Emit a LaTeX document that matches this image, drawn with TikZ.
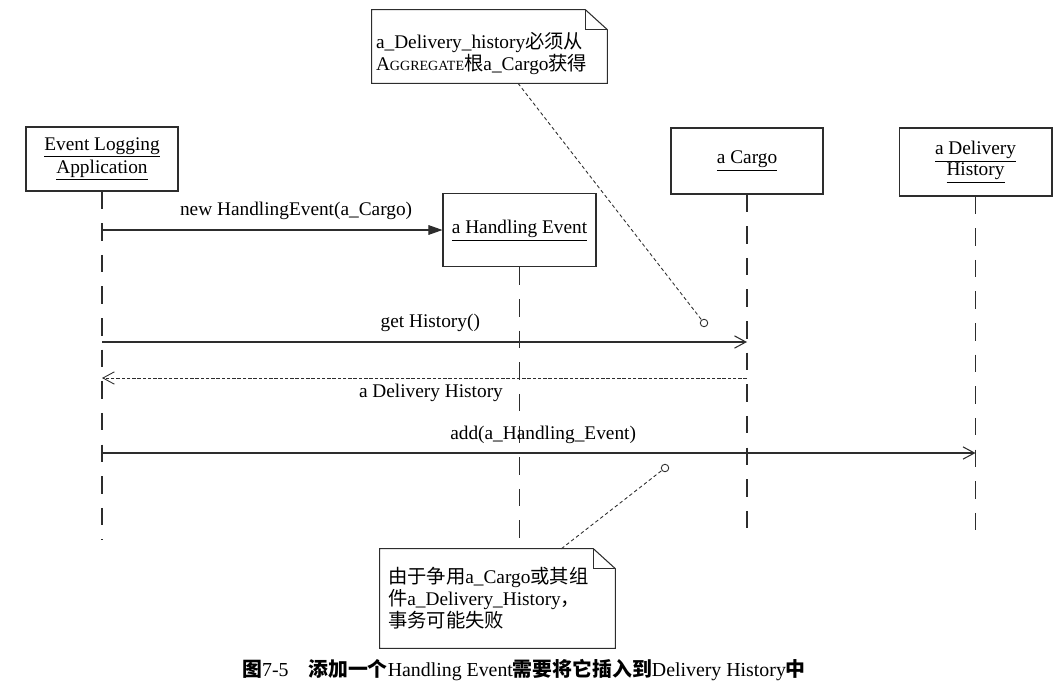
\documentclass[tikz,border=0pt]{standalone}
\usepackage{fontspec}
\setmainfont{Liberation Serif}
\newfontfamily\cjk{Noto Sans CJK SC}
\usepackage{tikz}
\usetikzlibrary{arrows.meta, positioning, calc}
\usepackage{xcolor}
\definecolor{ink}{RGB}{45,45,45}

\tikzset{
  obj/.style={draw=ink, line width=0.6pt, align=center, inner sep=2pt},
  lifeline/.style={draw=ink, line width=0.6pt, dash pattern=on 10pt off 8pt},
  msg/.style={draw=ink, line width=0.6pt},
  retmsg/.style={draw=ink, line width=0.5pt, dash pattern=on 2pt off 1pt},
  opentip/.style={-{Straight Barb[length=6.5pt, width=7pt]}},
  notebox/.style={align=left, minimum width=4.7cm, font=\fontsize{11}{12.5}\selectfont},
  noteline/.style={draw=ink, line width=0.6pt},
  notelink/.style={draw=ink, line width=0.5pt, dash pattern=on 2pt off 1.5pt},
  anchordot/.style={circle, draw=ink, fill=white, line width=0.5pt, inner sep=0pt, minimum size=0.15cm}
}

\begin{document}
\begin{tikzpicture}[x=0.02cm, y=-0.02cm, font=\fontsize{11}{12}\selectfont]
  \useasboundingbox (0,0) rectangle (1054,696);

  \node[obj, minimum width=3.04cm, minimum height=1.28cm] (ela) at (102,159) {\underline{Event Logging}\\\underline{Application}};
  \node[obj, minimum width=3.06cm, inner ysep=0pt, text height=23pt, text depth=19pt] (he) at (519.5,230) {\underline{a Handling Event}};
  \node[obj, minimum width=3.04cm, minimum height=1.32cm] (cargo) at (747,161) {\underline{a Cargo}};
  \node[obj, minimum width=3.06cm, minimum height=1.36cm] (dh) at (975.5,162) {\underline{a Delivery}\\\underline{History}};

  \coordinate (ela-end) at (102,540);
  \coordinate (he-end) at (519.5,540);
  \coordinate (cargo-end) at (747,540);
  \coordinate (dh-end) at (975.5,540);
  \draw[lifeline] (ela) -- (ela-end);
  \draw[lifeline] (he) -- (he-end);
  \draw[lifeline] (cargo) -- (cargo-end);
  \draw[lifeline] (dh) -- (dh-end);

  \coordinate (ela-new) at (102,230);
  \coordinate (ela-get) at (102,342);
  \coordinate (cargo-get) at (747,342);
  \coordinate (cargo-ret) at (747,378);
  \coordinate (ela-ret) at (102,378);
  \coordinate (ela-add) at (102,453);
  \coordinate (dh-add) at (975.5,453);
  \draw[msg, -{Triangle[length=8pt, width=5.5pt]}] (ela-new) -- node[pos=0.57, above=2.5pt] (new-lbl) {new HandlingEvent(a\_Cargo)} (he.west);
  \draw[msg, opentip] (ela-get) -- node[pos=0.509, above=2.5pt] (get-lbl) {get History()} (cargo-get);
  \draw[retmsg, opentip] (cargo-ret) -- node[pos=0.49, below=0pt] (ret-lbl) {a Delivery History} (ela-ret);
  \draw[msg, opentip] (ela-add) -- node[pos=0.505, above=1.5pt] (add-lbl) {add(a\_Handling\_Event)} (dh-add);

  \node[notebox, font=\fontsize{11}{11.5}\selectfont, inner xsep=0.08cm, text width=4.54cm, minimum height=1.46cm] (n1) at (489.5,46.5)
    {\rule{0pt}{17pt}a\_Delivery\_history{\cjk 必须从}\\A{\fontsize{8}{9}\selectfont GGREGATE}{\cjk 根}a\_Cargo{\cjk 获得}};
  \draw[noteline] (n1.north west) -- ($(n1.north east)+(-22,0)$) -- ($(n1.north east)+(0,20)$) -- (n1.south east) -- (n1.south west) -- cycle;
  \draw[noteline] ($(n1.north east)+(-22,0)$) |- ($(n1.north east)+(0,20)$);

  \node[notebox, inner xsep=0.16cm, text width=4.38cm, minimum height=1.98cm] (n2) at (497.5,598.5)
    {{\cjk 由于争用}a\_Cargo{\cjk 或其组}\\{\cjk 件}a\_Delivery\_History{\cjk ，}\\{\cjk 事务可能失败}};
  \draw[noteline] (n2.north west) -- ($(n2.north east)+(-22,0)$) -- ($(n2.north east)+(0,20)$) -- (n2.south east) -- (n2.south west) -- cycle;
  \draw[noteline] ($(n2.north east)+(-22,0)$) |- ($(n2.north east)+(0,20)$);

  \node[anchordot] (c1) at (704,323) {};
  \node[anchordot] (c2) at (665,468) {};
  \draw[notelink] (n1) -- (c1);
  \draw[notelink] (n2) -- (c2);

  \node[font=\fontsize{11.3}{13}\selectfont] (cap) at (524,670)
    {{\cjk\bfseries 图}7-5\quad{\cjk\bfseries 添加一个}Handling Event{\cjk\bfseries 需要将它插入到}Delivery History{\cjk\bfseries 中}};
\end{tikzpicture}
\end{document}
